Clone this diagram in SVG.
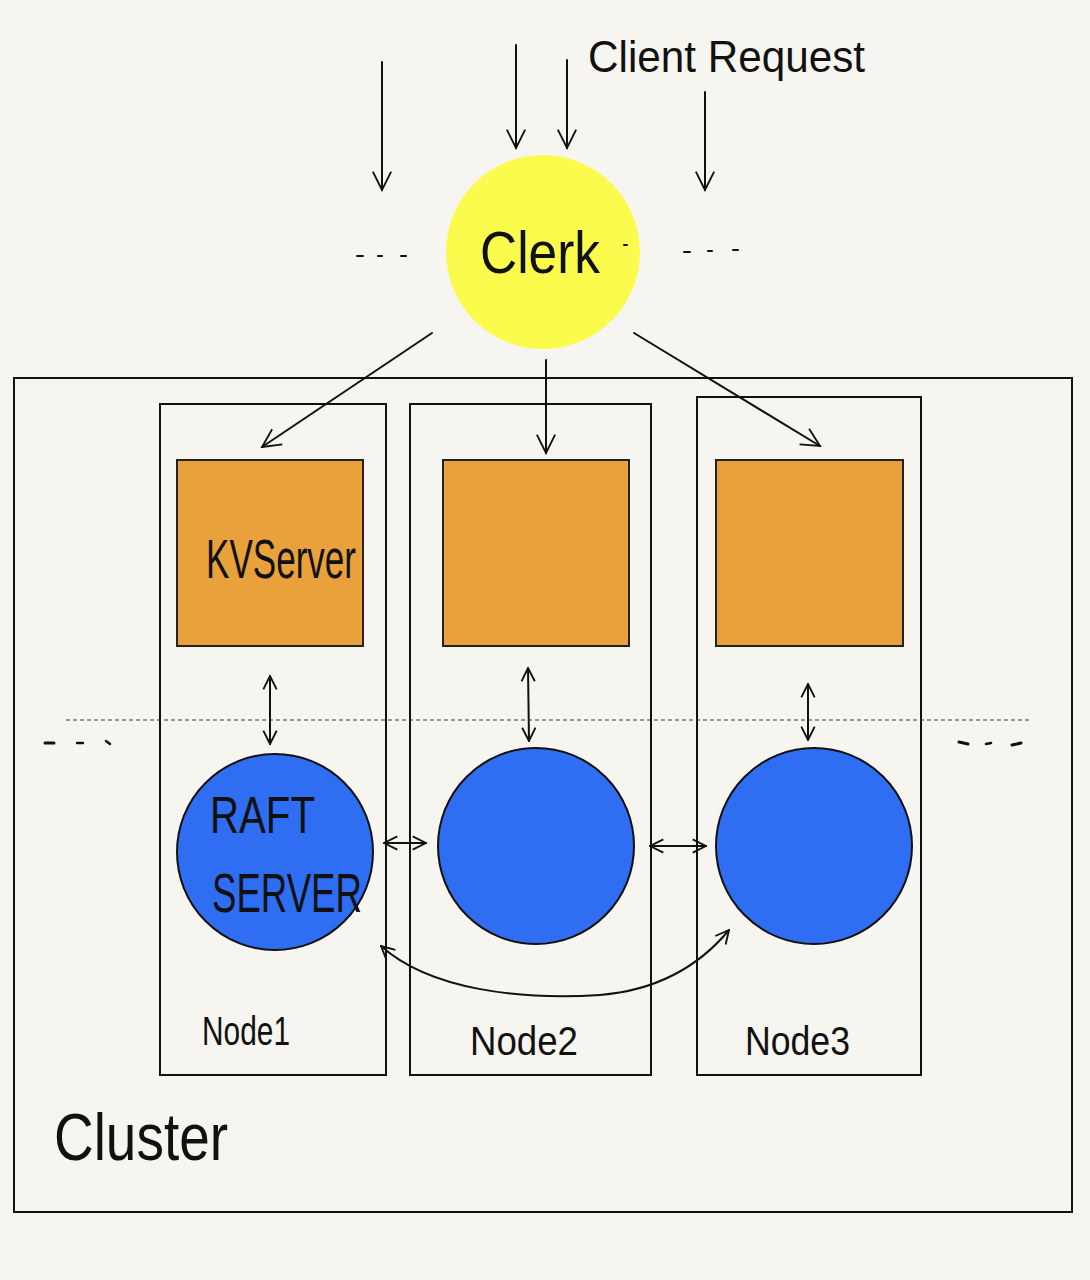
<svg xmlns="http://www.w3.org/2000/svg" width="1090" height="1280" viewBox="0 0 1090 1280">
<style>
.box{fill:none;stroke:#111;stroke-width:2}
.kv{fill:#E9A23B;stroke:#222;stroke-width:2}
.raft{fill:#2F6EF2;stroke:#111;stroke-width:2}
.ln{fill:none;stroke:#111;stroke-width:2;stroke-linecap:round}
.hand{font-family:"Liberation Sans Narrow","Liberation Sans",sans-serif;fill:#111}
</style>
<defs>
<marker id="ah" viewBox="0 0 12 12" refX="11" refY="6" markerWidth="16" markerHeight="16" markerUnits="userSpaceOnUse" orient="auto-start-reverse">
<path d="M1,1 L11,6 L1,11" fill="none" stroke="#111" stroke-width="1.4"/>
</marker>
<marker id="ahb" viewBox="0 0 12 12" refX="11" refY="6" markerWidth="22" markerHeight="22" markerUnits="userSpaceOnUse" orient="auto-start-reverse">
<path d="M1,1 L11,6 L1,11" fill="none" stroke="#111" stroke-width="1"/>
</marker>
</defs>
<rect width="1090" height="1280" fill="#F7F5F0"/>

<g id="cluster">
<rect class="box" x="14" y="378" width="1058" height="834"/>
<text class="hand" x="54" y="1160" font-size="66" textLength="174" lengthAdjust="spacingAndGlyphs">Cluster</text>
</g>

<g id="client-request">
<text class="hand" x="588" y="72" font-size="44" textLength="277" lengthAdjust="spacingAndGlyphs">Client Request</text>
</g>

<g id="clerk">
<circle cx="543" cy="252" r="97" fill="#FBFB4E"/>
<text class="hand" x="480" y="273" font-size="60" textLength="120" lengthAdjust="spacingAndGlyphs">Clerk</text>
</g>

<g id="node1">
<rect class="box" x="160" y="404" width="226" height="671"/>
<text class="hand" x="202" y="1045" font-size="40" textLength="88" lengthAdjust="spacingAndGlyphs">Node1</text>
</g>
<g id="node2">
<rect class="box" x="410" y="404" width="241" height="671"/>
<text class="hand" x="470" y="1055" font-size="40" textLength="108" lengthAdjust="spacingAndGlyphs">Node2</text>
</g>
<g id="node3">
<rect class="box" x="697" y="397" width="224" height="678"/>
<text class="hand" x="745" y="1055" font-size="40" textLength="105" lengthAdjust="spacingAndGlyphs">Node3</text>
</g>

<g id="kvserver1">
<rect class="kv" x="177" y="460" width="186" height="186"/>
<text class="hand" x="206" y="578" font-size="56" textLength="150" lengthAdjust="spacingAndGlyphs">KVServer</text>
</g>
<g id="kvserver2"><rect class="kv" x="443" y="460" width="186" height="186"/></g>
<g id="kvserver3"><rect class="kv" x="716" y="460" width="187" height="186"/></g>

<g id="raft1">
<circle class="raft" cx="275" cy="852" r="98"/>
<text class="hand" x="210" y="833" font-size="52" textLength="105" lengthAdjust="spacingAndGlyphs">RAFT</text>
<text class="hand" x="212" y="912" font-size="56" textLength="150" lengthAdjust="spacingAndGlyphs">SERVER</text>
</g>
<g id="raft2"><circle class="raft" cx="536" cy="846" r="98"/></g>
<g id="raft3"><circle class="raft" cx="814" cy="846" r="98"/></g>

<g id="connectors">
<line class="ln" x1="382" y1="62" x2="382" y2="190" marker-end="url(#ahb)"/>
<line class="ln" x1="516" y1="45" x2="516" y2="148" marker-end="url(#ahb)"/>
<line class="ln" x1="567" y1="60" x2="567" y2="148" marker-end="url(#ahb)"/>
<line class="ln" x1="705" y1="92" x2="705" y2="190" marker-end="url(#ahb)"/>
<line class="ln" x1="432" y1="333" x2="262" y2="447" marker-end="url(#ahb)"/>
<line class="ln" x1="546" y1="360" x2="546" y2="453" marker-end="url(#ahb)"/>
<line class="ln" x1="634" y1="333" x2="820" y2="446" marker-end="url(#ahb)"/>
<line class="ln" x1="270" y1="676" x2="270" y2="744" marker-start="url(#ah)" marker-end="url(#ah)"/>
<line class="ln" x1="528" y1="668" x2="529" y2="741" marker-start="url(#ah)" marker-end="url(#ah)"/>
<line class="ln" x1="808" y1="684" x2="808" y2="740" marker-start="url(#ah)" marker-end="url(#ah)"/>
<line class="ln" x1="384" y1="843" x2="426" y2="843" marker-start="url(#ah)" marker-end="url(#ah)"/>
<line class="ln" x1="650" y1="846" x2="706" y2="846" marker-start="url(#ah)" marker-end="url(#ah)"/>
<path class="ln" d="M381,946 C430,990 520,1000 600,995 C660,990 700,965 729,930" marker-start="url(#ah)" marker-end="url(#ah)"/>
<line x1="66" y1="720" x2="1030" y2="720" stroke="#333" stroke-width="1.2" stroke-dasharray="4,3"/>
</g>

<g id="ellipses" class="ln">
<line x1="357" y1="256" x2="363" y2="256"/><line x1="378" y1="256" x2="382" y2="256"/><line x1="401" y1="256" x2="406" y2="256"/>
<line x1="684" y1="252" x2="690" y2="252"/><line x1="708" y1="251" x2="712" y2="251"/><line x1="733" y1="250" x2="738" y2="250"/>
<line x1="624" y1="245" x2="627" y2="245"/>
<line x1="45" y1="743" x2="54" y2="743" stroke-width="3"/><line x1="77" y1="743" x2="83" y2="743" stroke-width="2.5"/><line x1="106" y1="741" x2="110" y2="744" stroke-width="2.5"/>
<line x1="959" y1="742" x2="968" y2="744" stroke-width="3"/><line x1="986" y1="744" x2="991" y2="743" stroke-width="2.5"/><line x1="1012" y1="745" x2="1021" y2="743" stroke-width="3"/>
</g>
</svg>
